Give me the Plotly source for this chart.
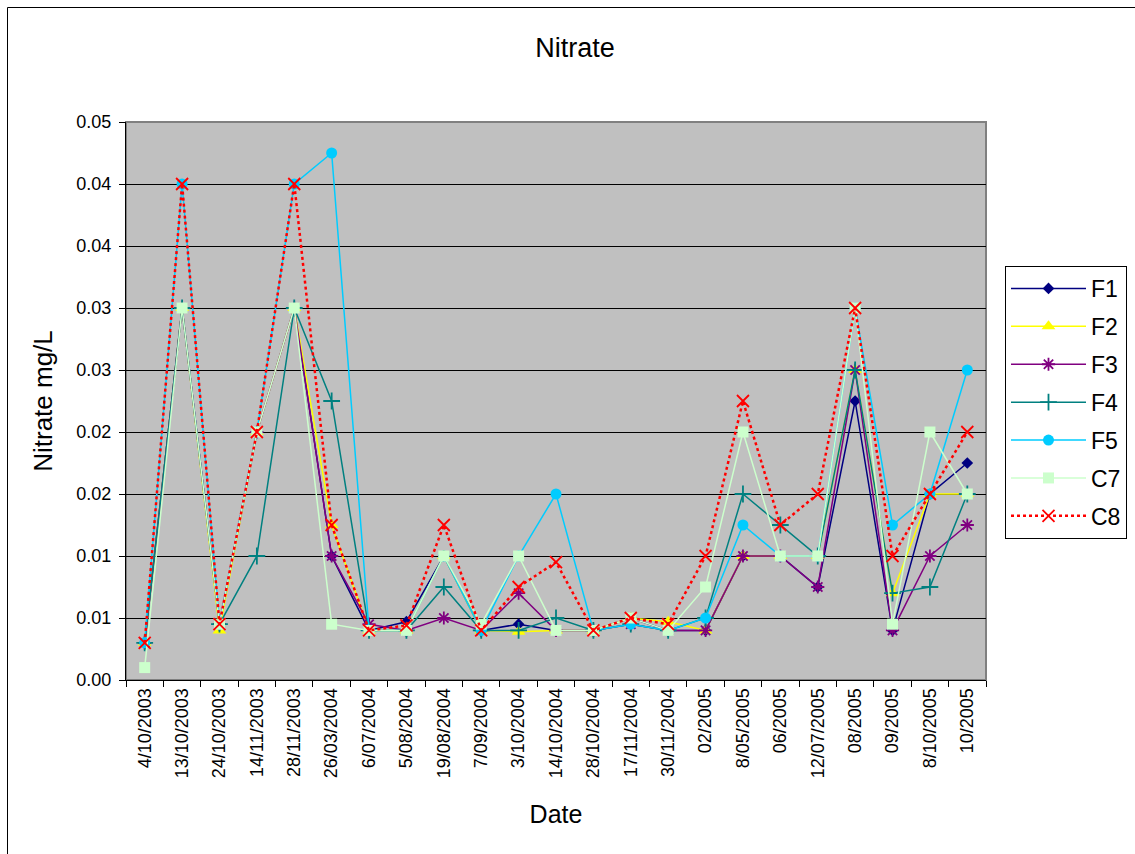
import plotly.graph_objects as go

dates = ["4/10/2003", "13/10/2003", "24/10/2003", "14/11/2003", "28/11/2003",
         "26/03/2004", "6/07/2004", "5/08/2004", "19/08/2004", "7/09/2004",
         "3/10/2004", "14/10/2004", "28/10/2004", "17/11/2004", "30/11/2004",
         "02/2005", "8/05/2005", "06/2005", "12/07/2005", "08/2005",
         "09/2005", "8/10/2005", "10/2005"]

F1 = [0.003, 0.03, 0.0045, 0.02, 0.03, 0.01, 0.004, 0.0047, 0.01, 0.004, 0.0045, 0.004,
      0.004, 0.005, 0.004, 0.004, 0.01, 0.01, 0.0075, 0.0225, 0.004, 0.015, 0.0175]
F2 = [0.003, 0.03, 0.004, 0.02, 0.03, 0.0125, 0.004, 0.004, 0.01, 0.004, 0.0039, 0.004,
      0.004, 0.005, 0.0047, 0.004, 0.01, 0.01, 0.01, 0.025, 0.007, 0.015, 0.015]
F3 = [0.003, 0.03, 0.0045, 0.02, 0.03, 0.01, 0.0045, 0.004, 0.005, 0.004, 0.007, 0.004,
      0.004, 0.0045, 0.004, 0.004, 0.01, 0.01, 0.0075, 0.025, 0.004, 0.01, 0.0125]
F4 = [0.003, 0.03, 0.0045, 0.01, 0.03, 0.0225, 0.004, 0.004, 0.0075, 0.004, 0.004, 0.005,
      0.004, 0.0045, 0.004, 0.005, 0.015, 0.0125, 0.01, 0.025, 0.007, 0.0075, 0.015]
F5 = [0.003, 0.04, 0.0045, 0.02, 0.04, 0.0425, 0.004, 0.004, 0.01, 0.004, 0.01, 0.015,
      0.004, 0.0045, 0.004, 0.005, 0.0125, 0.01, 0.01, 0.03, 0.0125, 0.015, 0.025]
C7 = [0.001, 0.03, 0.0045, 0.02, 0.03, 0.0045, 0.004, 0.004, 0.01, 0.0045, 0.01, 0.004,
      0.004, 0.005, 0.004, 0.0075, 0.02, 0.01, 0.01, 0.03, 0.0045, 0.02, 0.015]
C8 = [0.003, 0.04, 0.0045, 0.02, 0.04, 0.0125, 0.004, 0.0044, 0.0125, 0.004, 0.0075, 0.0095,
      0.004, 0.005, 0.0045, 0.01, 0.0225, 0.0125, 0.015, 0.03, 0.01, 0.015, 0.02]

y_tickvals = [0, 0.005, 0.01, 0.015, 0.02, 0.025, 0.03, 0.035, 0.04, 0.045]
y_ticktext = ["0.00", "0.01", "0.01", "0.02", "0.02", "0.03", "0.03", "0.04", "0.04", "0.05"]

FONT = "Liberation Sans, Arial, sans-serif"

series = [
    ("F1", F1, "#000080", "diamond", 9, "solid", 1.5),
    ("F2", F2, "#FFFF00", "triangle-up", 12, "solid", 1.5),
    ("F3", F3, "#800080", "asterisk-open", 11, "solid", 1.5),
    ("F4", F4, "#008080", "cross-thin-open", 12, "solid", 1.5),
    ("F5", F5, "#00CCFF", "circle", 11, "solid", 1.5),
    ("C7", C7, "#CCFFCC", "square", 11, "solid", 1.5),
    ("C8", C8, "#FF0000", "x-thin-open", 12, "dot", 2.5),
]

fig = go.Figure()
for name, vals, color, sym, size, dash, lw in series:
    fig.add_trace(go.Scatter(
        x=dates, y=vals, name=name, mode="lines+markers", legendgroup=name,
        line=dict(color=color, width=lw, dash=dash),
        marker=dict(symbol=sym, size=size, color=color,
                    line=dict(color=color, width=1.8 if "open" in sym else 0)),
    ))

L, R, T, B = 126, 986, 122, 680
W, H = 1135, 854
pw, ph = R - L, B - T

def px(xp):
    return (xp - L) / pw

def py(yp):
    return (B - yp) / ph

fig.update_layout(
    width=W, height=H,
    margin=dict(l=L, r=W - R, t=T, b=H - B, autoexpand=False),
    paper_bgcolor="white",
    plot_bgcolor="#C0C0C0",
    font=dict(family=FONT, color="black"),
    title=dict(text="Nitrate", x=575 / W, xref="container",
               xanchor="center", y=1 - 48 / H, yref="container", yanchor="middle",
               font=dict(size=27, family=FONT, color="black")),
    showlegend=True,
    legend=dict(x=px(1005), y=py(266), xanchor="left", yanchor="top",
                bgcolor="white", bordercolor="black", borderwidth=1,
                font=dict(size=23, family=FONT, color="black"),
                itemwidth=75, traceorder="grouped", tracegroupgap=5),
    xaxis=dict(type="category", range=[-0.5, len(dates) - 0.5],
               tickson="boundaries", ticks="outside", ticklen=6, tickcolor="black",
               tickangle=-90, tickfont=dict(size=18, family=FONT, color="black"),
               showgrid=False, showline=True, linecolor="black", linewidth=1,
               title=dict(text="Date", font=dict(size=25, family=FONT, color="black"),
                          standoff=28),
               zeroline=False),
    yaxis=dict(range=[0, 0.045], tickvals=y_tickvals, ticktext=y_ticktext,
               ticks="outside", ticklen=6, tickcolor="black",
               ticklabelstandoff=4,
               tickfont=dict(size=18, family=FONT, color="black"),
               showgrid=True, gridcolor="black", gridwidth=1,
               showline=True, linecolor="black", linewidth=1, zeroline=False,
               title=dict(text="Nitrate mg/L", font=dict(size=26, family=FONT, color="black"),
                          standoff=16)),
)

# plot area border (gray)
fig.add_shape(type="rect", xref="paper", yref="paper", x0=0, y0=0, x1=1, y1=1,
              line=dict(color="#808080", width=2), layer="below")
# chart area border
fig.add_shape(type="rect", xref="paper", yref="paper",
              x0=px(7.5), y0=py(870), x1=px(1150), y1=py(7.5),
              line=dict(color="black", width=1), layer="below")

fig.write_html("out.html", config={"displayModeBar": False},
               post_script="document.body.style.margin='0px';document.body.style.overflow='hidden';")
